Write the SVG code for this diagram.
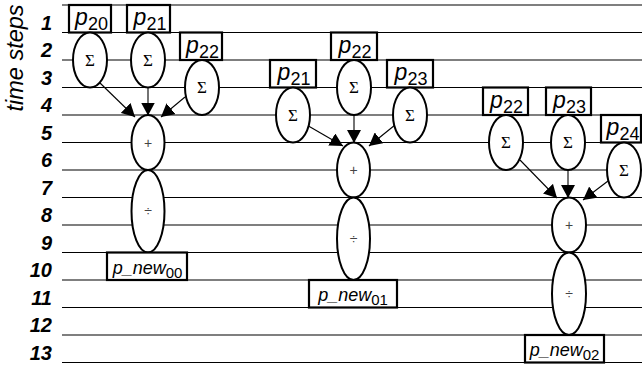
<svg xmlns="http://www.w3.org/2000/svg" width="642" height="368" viewBox="0 0 642 368">
<style>
.grid line{stroke:#000;stroke-width:1.2}
.num{font-family:"Liberation Sans",Arial,sans-serif;font-weight:bold;font-style:italic;font-size:20px;text-anchor:end;fill:#000}
.axis{font-family:"Liberation Sans",Arial,sans-serif;font-style:italic;font-size:23.5px;text-anchor:middle;fill:#000}
.box{fill:#fff;stroke:#000;stroke-width:2.2}
.ell{fill:#fff;stroke:#000;stroke-width:2}
.pl{font-family:"Liberation Sans",Arial,sans-serif;font-style:italic;font-size:23px;text-anchor:middle;fill:#000}
.sub{font-style:normal;font-size:18px}
.pn{font-family:"Liberation Sans",Arial,sans-serif;font-style:italic;font-size:18px;text-anchor:middle;fill:#000}
.sub2{font-style:normal;font-size:15px}
.sig{font-family:"Liberation Serif","Times New Roman",serif;font-size:17px;text-anchor:middle;fill:#000}
.op{font-family:"Liberation Sans",Arial,sans-serif;font-size:14px;text-anchor:middle;fill:#444}
.conn line{stroke:#000;stroke-width:1.1;marker-end:url(#ah)}
</style>
<defs>
<marker id="ah" markerUnits="userSpaceOnUse" markerWidth="14" markerHeight="14" refX="13" refY="7" orient="auto">
<path d="M0,0 L13,7 L0,14 z" fill="#000"/>
</marker>
</defs>
<rect width="642" height="368" fill="#fff"/>
<g class="grid">
<line x1="62" y1="5" x2="642" y2="5"/>
<line x1="62" y1="32.5" x2="642" y2="32.5"/>
<line x1="62" y1="60" x2="642" y2="60"/>
<line x1="62" y1="87.5" x2="642" y2="87.5"/>
<line x1="62" y1="115" x2="642" y2="115"/>
<line x1="62" y1="142.5" x2="642" y2="142.5"/>
<line x1="62" y1="170" x2="642" y2="170"/>
<line x1="62" y1="197.5" x2="642" y2="197.5"/>
<line x1="62" y1="225" x2="642" y2="225"/>
<line x1="62" y1="252.5" x2="642" y2="252.5"/>
<line x1="62" y1="280" x2="642" y2="280"/>
<line x1="62" y1="307.5" x2="642" y2="307.5"/>
<line x1="62" y1="335" x2="642" y2="335"/>
<line x1="62" y1="362.5" x2="642" y2="362.5"/>
</g>
<g id="axis">
<text class="axis" transform="translate(23,58) rotate(-90)">time steps</text>
<text class="num" x="52" y="29.5">1</text>
<text class="num" x="52" y="57">2</text>
<text class="num" x="52" y="84.5">3</text>
<text class="num" x="52" y="112">4</text>
<text class="num" x="52" y="139.5">5</text>
<text class="num" x="52" y="167">6</text>
<text class="num" x="52" y="194.5">7</text>
<text class="num" x="52" y="222">8</text>
<text class="num" x="52" y="249.5">9</text>
<text class="num" x="52" y="277">10</text>
<text class="num" x="52" y="304.5">11</text>
<text class="num" x="52" y="332">12</text>
<text class="num" x="52" y="359.5">13</text>
</g>
<g class="conn">
<line x1="100" y1="83" x2="135" y2="117"/>
<line x1="148" y1="87.5" x2="148" y2="115.5"/>
<line x1="185" y1="97" x2="161" y2="117"/>
<line x1="305" y1="124" x2="343" y2="146"/>
<line x1="354" y1="115" x2="354" y2="143"/>
<line x1="395" y1="125" x2="369" y2="146"/>
<line x1="520" y1="160" x2="557" y2="198"/>
<line x1="568" y1="170" x2="568" y2="198"/>
<line x1="608" y1="181" x2="583" y2="200"/>
</g>
<g id="c0_p20"><rect class="box" x="69" y="5" width="42" height="27.5"/><text class="pl" x="91.5" y="25">p<tspan class="sub" dy="5">20</tspan></text></g>
<g id="c0_p21"><rect class="box" x="127" y="5" width="43" height="27.5"/><text class="pl" x="150" y="25">p<tspan class="sub" dy="5">21</tspan></text></g>
<g id="c0_p22"><rect class="box" x="180" y="32.5" width="42" height="27.5"/><text class="pl" x="202.5" y="52.5">p<tspan class="sub" dy="5">22</tspan></text></g>
<g id="c0_s20"><ellipse class="ell" cx="90" cy="60" rx="17" ry="27.5"/><text class="sig" x="90" y="65.5">Σ</text></g>
<g id="c0_s21"><ellipse class="ell" cx="148" cy="60" rx="17" ry="27.5"/><text class="sig" x="148" y="65.5">Σ</text></g>
<g id="c0_s22"><ellipse class="ell" cx="202" cy="87.5" rx="17" ry="27.5"/><text class="sig" x="202" y="93">Σ</text></g>
<g id="c0_add"><ellipse class="ell" cx="148" cy="142.5" rx="16.5" ry="27.5"/><text class="op" x="148" y="147.5">+</text></g>
<g id="c0_div"><ellipse class="ell" cx="148" cy="211.25" rx="16.5" ry="41.25"/><text class="op" x="148" y="216">÷</text></g>
<g id="c0_out"><rect class="box" x="107" y="252.5" width="80" height="27.5"/><text class="pn" x="147.5" y="273.5">p_new<tspan class="sub2" dy="4">00</tspan></text></g>

<g id="c1_p22"><rect class="box" x="331" y="32.5" width="46" height="27.5"/><text class="pl" x="355" y="52.5">p<tspan class="sub" dy="5">22</tspan></text></g>
<g id="c1_p21"><rect class="box" x="270" y="60" width="46" height="27.5"/><text class="pl" x="294" y="80">p<tspan class="sub" dy="5">21</tspan></text></g>
<g id="c1_p23"><rect class="box" x="387" y="60" width="46" height="27.5"/><text class="pl" x="411" y="80">p<tspan class="sub" dy="5">23</tspan></text></g>
<g id="c1_s22"><ellipse class="ell" cx="354" cy="87.5" rx="17" ry="27.5"/><text class="sig" x="354" y="93">Σ</text></g>
<g id="c1_s21"><ellipse class="ell" cx="293" cy="115" rx="17" ry="27.5"/><text class="sig" x="293" y="120.5">Σ</text></g>
<g id="c1_s23"><ellipse class="ell" cx="410" cy="115" rx="17" ry="27.5"/><text class="sig" x="410" y="120.5">Σ</text></g>
<g id="c1_add"><ellipse class="ell" cx="353.5" cy="170" rx="16.5" ry="27.5"/><text class="op" x="353.5" y="175">+</text></g>
<g id="c1_div"><ellipse class="ell" cx="353.5" cy="238.75" rx="16.5" ry="41.25"/><text class="op" x="353.5" y="243.5">÷</text></g>
<g id="c1_out"><rect class="box" x="309" y="280" width="88" height="27.5"/><text class="pn" x="353" y="301">p_new<tspan class="sub2" dy="4">01</tspan></text></g>

<g id="c2_p22"><rect class="box" x="483" y="87.5" width="45" height="27.5"/><text class="pl" x="506.5" y="107.5">p<tspan class="sub" dy="5">22</tspan></text></g>
<g id="c2_p23"><rect class="box" x="546" y="87.5" width="45" height="27.5"/><text class="pl" x="569.5" y="107.5">p<tspan class="sub" dy="5">23</tspan></text></g>
<g id="c2_p24"><rect class="box" x="601" y="115" width="40" height="27.5"/><text class="pl" x="623" y="135">p<tspan class="sub" dy="5">24</tspan></text></g>
<g id="c2_s22"><ellipse class="ell" cx="506" cy="142.5" rx="17" ry="27.5"/><text class="sig" x="506" y="148">Σ</text></g>
<g id="c2_s23"><ellipse class="ell" cx="568" cy="142.5" rx="17" ry="27.5"/><text class="sig" x="568" y="148">Σ</text></g>
<g id="c2_s24"><ellipse class="ell" cx="624" cy="170" rx="17" ry="27.5"/><text class="sig" x="624" y="175.5">Σ</text></g>
<g id="c2_add"><ellipse class="ell" cx="569" cy="225" rx="17" ry="27.5"/><text class="op" x="569" y="230">+</text></g>
<g id="c2_div"><ellipse class="ell" cx="569" cy="293.75" rx="17" ry="41.25"/><text class="op" x="569" y="298.5">÷</text></g>
<g id="c2_out"><rect class="box" x="525" y="335" width="79" height="27.5"/><text class="pn" x="564.5" y="356">p_new<tspan class="sub2" dy="4">02</tspan></text></g>
</svg>
